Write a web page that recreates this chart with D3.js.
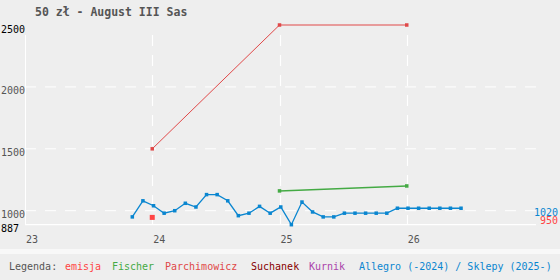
<!DOCTYPE html>
<html>
<head>
<meta charset="utf-8">
<script src="https://cdn.jsdelivr.net/npm/d3@7"></script>
<style>
    body { margin: 0; background: #eeeeee; }
    #chart { width: 560px; height: 280px; }
    text { font-family: "DejaVu Sans Mono", monospace; }
</style>
</head>
<body>
<div id="chart"></div>
<script>

// data
const chartTitle = '50 zł - August III Sas';
const yTicks = [2500, 2000, 1500, 1000, 887];
const xTicks = [23, 24, 25, 26];

const emisja = [{year: 24, value: 950}];
const fischer = [{year: 25, value: 1160}, {year: 26, value: 1200}];
const parchimowicz = [{year: 24, value: 1500}, {year: 25, value: 2500}, {year: 26, value: 2500}];

const allegroMonths = ['2023-11','2023-12',
    '2024-01','2024-02','2024-03','2024-04','2024-05','2024-06','2024-07','2024-08','2024-09','2024-10','2024-11','2024-12',
    '2025-01','2025-02','2025-03','2025-04','2025-05','2025-06','2025-07','2025-08','2025-09','2025-10','2025-11','2025-12',
    '2026-01','2026-02','2026-03','2026-04','2026-05','2026-06'];
const allegroValues = [950, 1080,
    1040, 980, 1000, 1060, 1030, 1130, 1130, 1080, 960, 980, 1035, 980,
    1030, 887, 1070, 990, 950, 950, 980, 980, 980, 980, 980, 1020,
    1020, 1020, 1020, 1020, 1020, 1020];

const legendNames = ['emisja', 'Fischer', 'Parchimowicz', 'Suchanek', 'Kurnik', 'Allegro (-2024) / Sklepy (2025-)'];
const legendColors = ['#ff4444', '#44aa44', '#e04848', '#880000', '#aa44aa', '#0a86d0'];

// months -> two digit decimal year
let allegro = [];
for (let i = 0; i < allegroMonths.length; i++) {
    let p = allegroMonths[i].split('-');
    allegro.push({
        year: +p[0] - 2000 + (+p[1] - 1 + 0.12) / 12,
        value: allegroValues[i]
    });
}

const W = 560, H = 280;
const svg = d3.select('#chart').append('svg')
    .attr('width', W)
    .attr('height', H);

svg.append('rect').attr('width', W).attr('height', H).attr('fill', '#eeeeee');
svg.append('rect').attr('x', 0).attr('y', 249).attr('width', W).attr('height', 5).attr('fill', '#f8f8f8');

const x = d3.scaleLinear().domain([23, 27]).range([25, 534]);
const y = d3.scaleLinear().domain([887, 2500]).range([224.7, 25]);
const gridTop = 35, gridRight = 536;

// grid
svg.selectAll('.hgrid').data(yTicks.filter(d => d !== 2500 && d !== 887))
    .enter().append('line')
    .attr('x1', x(23)).attr('x2', gridRight)
    .attr('y1', d => y(d)).attr('y2', d => y(d))
    .attr('stroke', '#fff')
    .attr('stroke-dasharray', '11,9');

svg.selectAll('.vgrid').data(xTicks.slice(1))
    .enter().append('line')
    .attr('x1', d => Math.round(x(d)) + 0.5).attr('x2', d => Math.round(x(d)) + 0.5)
    .attr('y1', gridTop).attr('y2', y(887))
    .attr('stroke', '#fff')
    .attr('stroke-width', 1.2)
    .attr('stroke-dasharray', '11,9');

svg.append('line')
    .attr('x1', x(23) + 0.5).attr('x2', x(23) + 0.5)
    .attr('y1', gridTop).attr('y2', y(887))
    .attr('stroke', '#fff');
svg.append('line')
    .attr('x1', x(23)).attr('x2', gridRight)
    .attr('y1', y(887)).attr('y2', y(887))
    .attr('stroke', '#fff')
    .attr('stroke-width', 1.3);

// axis labels
svg.selectAll('.ylab').data(yTicks)
    .enter().append('text')
    .attr('x', 1)
    .attr('y', d => y(d) + 7.5)
    .attr('font-size', 10)
    .attr('fill', d => (d === 2500 || d === 887) ? '#000' : '#555')
    .text(d => d);

svg.selectAll('.xlab').data(xTicks)
    .enter().append('text')
    .attr('x', d => x(d) + 1)
    .attr('y', 242.5)
    .attr('font-size', 10)
    .attr('fill', '#555')
    .text(d => d);

svg.append('text')
    .attr('x', 35).attr('y', 16)
    .attr('font-size', 11.5)
    .attr('font-weight', 'bold')
    .attr('fill', '#555')
    .text(chartTitle);

// series
const line = d3.line().x(d => x(d.year)).y(d => y(d.value));

function drawSeries(data, color, width, size) {
    svg.append('path')
        .datum(data)
        .attr('d', line)
        .attr('fill', 'none')
        .attr('stroke', color)
        .attr('stroke-width', width);
    svg.append('g').selectAll('rect').data(data)
        .enter().append('rect')
        .attr('x', d => x(d.year) - size / 2)
        .attr('y', d => y(d.value) - size / 2)
        .attr('width', size)
        .attr('height', size)
        .attr('fill', color);
}

drawSeries(parchimowicz, '#e04848', 1, 3.5);
drawSeries(fischer, '#44aa44', 1.5, 3.5);
drawSeries(allegro, '#0a86d0', 1.3, 3.5);

svg.selectAll('.emisja').data(emisja)
    .enter().append('rect')
    .attr('x', d => x(d.year) - 2.5)
    .attr('y', d => y(d.value) - 2)
    .attr('width', 5)
    .attr('height', 5)
    .attr('fill', '#ff4444');

// last values on the right
const lastAllegro = allegro[allegro.length - 1];
svg.append('text')
    .attr('x', 558).attr('y', y(lastAllegro.value) + 7.5)
    .attr('text-anchor', 'end')
    .attr('font-size', 10)
    .attr('fill', '#0a86d0')
    .text(lastAllegro.value);
svg.append('text')
    .attr('x', 558).attr('y', y(emisja[0].value) + 7.5)
    .attr('text-anchor', 'end')
    .attr('font-size', 10)
    .attr('fill', '#ff4444')
    .text(emisja[0].value);

// legend
const legendX = [65, 112, 165, 251, 309, 359];
svg.append('text')
    .attr('x', 9).attr('y', 270)
    .attr('font-size', 10)
    .attr('fill', '#555')
    .text('Legenda:');
svg.selectAll('.leg').data(legendNames)
    .enter().append('text')
    .attr('x', (d, i) => legendX[i])
    .attr('y', 270)
    .attr('font-size', 10)
    .attr('fill', (d, i) => legendColors[i])
    .text(d => d);

</script>
</body>
</html>
